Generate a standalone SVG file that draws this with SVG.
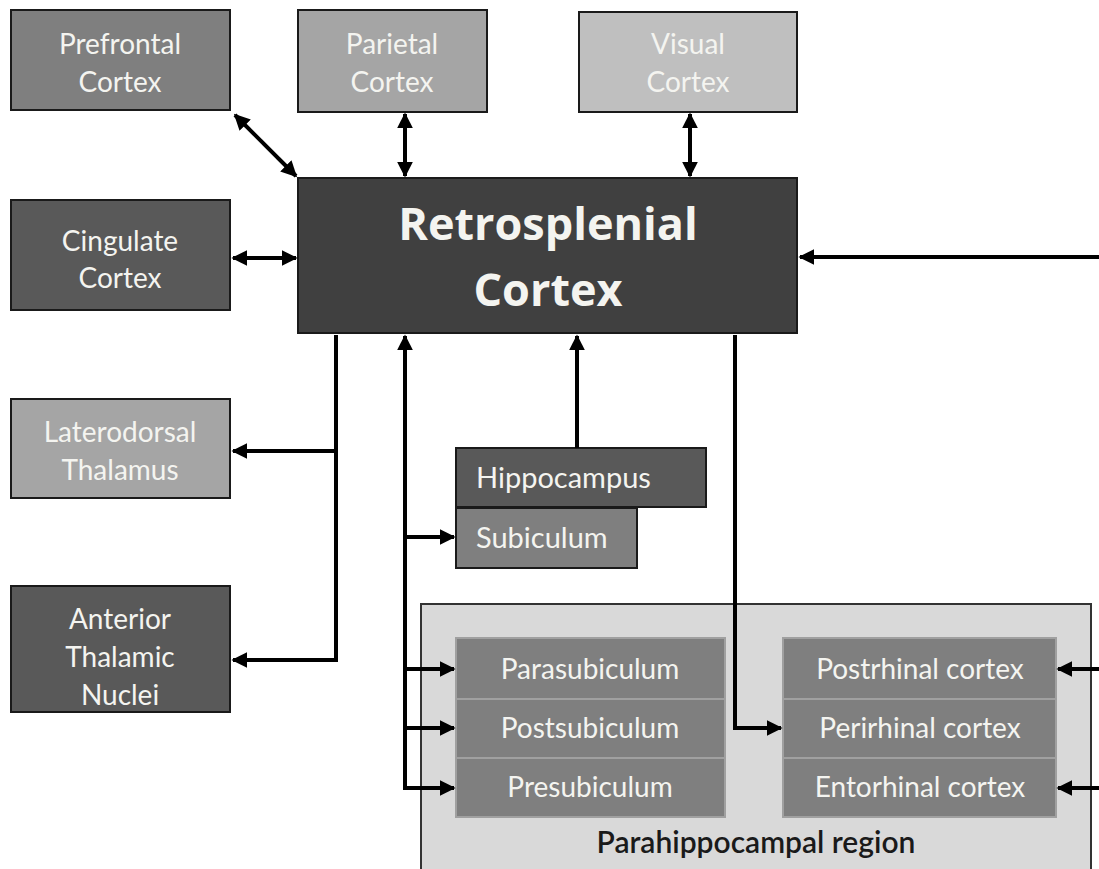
<svg xmlns="http://www.w3.org/2000/svg" width="1099" height="869" viewBox="0 0 1099 869">
<defs>
<marker id="ah" viewBox="0 0 10 10" refX="9" refY="5" markerWidth="4" markerHeight="4" orient="auto-start-reverse" markerUnits="strokeWidth">
<path d="M0,0 L10,5 L0,10 z" fill="#000"/>
</marker>
<style>
.box{stroke:#1a1a1a;stroke-width:2}
.t{font-family:Lato,"Open Sans",sans-serif;font-size:28px;fill:#f4f4f0;text-anchor:middle}
.tl{font-family:Lato,"Open Sans",sans-serif;font-size:29px;fill:#f4f4f0}
.big{font-family:"Open Sans",Lato,sans-serif;font-size:45px;font-weight:bold;fill:#f4f4f0;text-anchor:middle}
.inner{fill:#7f7f7f;stroke:#a0a0a0;stroke-width:2}
.c{fill:none;stroke:#000;stroke-width:4}
.a{marker-end:url(#ah)}
.a2{marker-start:url(#ah);marker-end:url(#ah)}
</style>
</defs>
<rect width="1099" height="869" fill="#fff"/>

<g id="parahippocampal">
<rect x="421" y="604" width="670" height="275" fill="#d9d9d9" stroke="#333" stroke-width="2"/>
<text x="756" y="853" font-family="Lato,'Open Sans',sans-serif" font-size="30" font-weight="600" fill="#1a1a1a" text-anchor="middle">Parahippocampal region</text>
</g>
<g id="parasubiculum"><rect class="inner" x="456" y="638" width="269" height="61"/><text class="t" x="590" y="679">Parasubiculum</text></g>
<g id="postsubiculum"><rect class="inner" x="456" y="699" width="269" height="59"/><text class="t" x="590" y="738">Postsubiculum</text></g>
<g id="presubiculum"><rect class="inner" x="456" y="758" width="269" height="59"/><text class="t" x="590" y="797">Presubiculum</text></g>
<g id="postrhinal"><rect class="inner" x="783" y="638" width="273" height="61"/><text class="t" x="920" y="679">Postrhinal cortex</text></g>
<g id="perirhinal"><rect class="inner" x="783" y="699" width="273" height="59"/><text class="t" x="920" y="738">Perirhinal cortex</text></g>
<g id="entorhinal"><rect class="inner" x="783" y="758" width="273" height="59"/><text class="t" x="920" y="797">Entorhinal cortex</text></g>

<g id="prefrontal"><rect class="box" x="11" y="10" width="219" height="100" fill="#7f7f7f"/><text class="t" x="120" y="54">Prefrontal</text><text class="t" x="120" y="92">Cortex</text></g>
<g id="parietal"><rect class="box" x="298" y="10" width="189" height="102" fill="#a5a5a5"/><text class="t" x="392" y="54">Parietal</text><text class="t" x="392" y="92">Cortex</text></g>
<g id="visual"><rect class="box" x="579" y="12" width="218" height="100" fill="#bfbfbf"/><text class="t" x="688" y="54">Visual</text><text class="t" x="688" y="92">Cortex</text></g>
<g id="retrosplenial"><rect class="box" x="298" y="178" width="499" height="155" fill="#404040"/><text class="big" x="548" y="240">Retrosplenial</text><text class="big" x="548" y="306">Cortex</text></g>
<g id="cingulate"><rect class="box" x="11" y="200" width="219" height="110" fill="#595959"/><text class="t" x="120" y="251">Cingulate</text><text class="t" x="120" y="288">Cortex</text></g>
<g id="laterodorsal"><rect class="box" x="11" y="399" width="219" height="99" fill="#a5a5a5"/><text class="t" x="120" y="442">Laterodorsal</text><text class="t" x="120" y="480">Thalamus</text></g>
<g id="anterior"><rect class="box" x="11" y="586" width="219" height="126" fill="#595959"/><text class="t" x="120" y="629">Anterior</text><text class="t" x="120" y="667">Thalamic</text><text class="t" x="120" y="705">Nuclei</text></g>
<g id="hippocampus"><rect class="box" x="456" y="448" width="250" height="59" fill="#595959"/><text class="tl" x="476" y="488">Hippocampus</text></g>
<g id="subiculum"><rect class="box" x="456" y="508" width="181" height="60" fill="#7f7f7f"/><text class="tl" x="476" y="548">Subiculum</text></g>

<g id="connectors">
<line class="c a2" x1="235" y1="115" x2="296" y2="176"/>
<line class="c a2" x1="405" y1="114" x2="405" y2="176"/>
<line class="c a2" x1="690" y1="114" x2="690" y2="176"/>
<line class="c a2" x1="233" y1="258" x2="296" y2="258"/>
<line class="c a" x1="1099" y1="257" x2="800" y2="257"/>
<polyline class="c" points="336,335 336,662"/>
<line class="c a" x1="336" y1="451" x2="233" y2="451"/>
<line class="c a" x1="338" y1="660" x2="233" y2="660"/>
<line class="c a" x1="405" y1="790" x2="405" y2="336"/>
<line class="c a" x1="405" y1="537" x2="454" y2="537"/>
<line class="c a" x1="405" y1="669" x2="454" y2="669"/>
<line class="c a" x1="405" y1="728" x2="454" y2="728"/>
<line class="c a" x1="403" y1="788" x2="454" y2="788"/>
<line class="c a" x1="577" y1="448" x2="577" y2="336"/>
<polyline class="c a" points="735,335 735,728 781,728"/>
<line class="c a" x1="1099" y1="669" x2="1058" y2="669"/>
<line class="c a" x1="1099" y1="788" x2="1058" y2="788"/>
</g>
</svg>
